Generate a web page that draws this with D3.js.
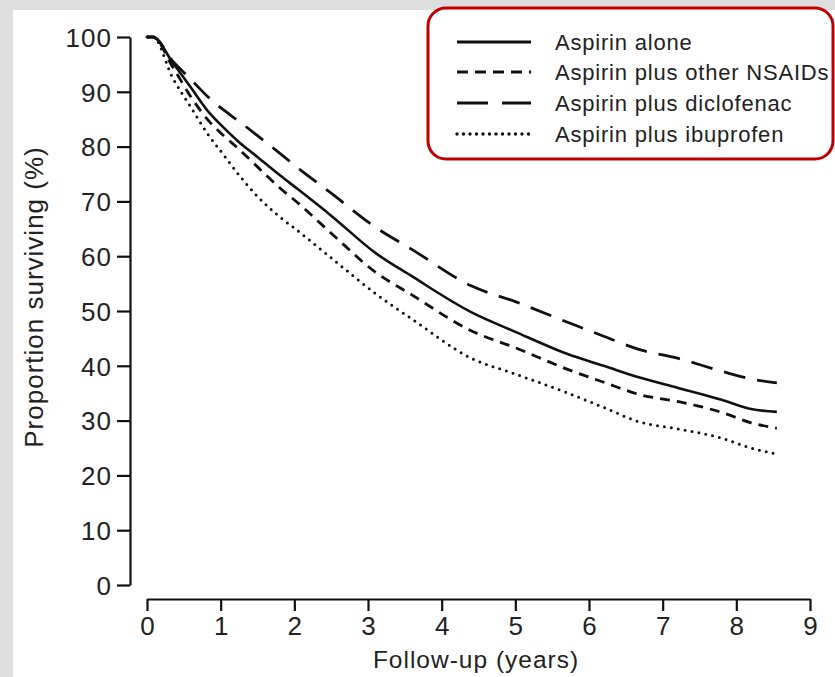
<!DOCTYPE html>
<html>
<head>
<meta charset="utf-8">
<script src="https://cdn.jsdelivr.net/npm/d3@7/dist/d3.min.js"></script>
<style>
    body { margin: 0; background: #fff; }
    svg text { font-family: "Liberation Sans", Arial, sans-serif; fill: #222; }
</style>
</head>
<body>
<div class="chart"></div>
<script>
// Follow-up time (years) at which the curves were read
const years = [0, 0.08, 0.35, 0.6, 0.85, 1.0, 1.25, 1.5, 1.8, 2.05, 2.5, 3.1, 3.6, 4.4, 5.0, 5.7, 6.2, 6.7, 7.2, 7.8, 8.2, 8.55];

// Proportion surviving (%) per group
const aspirinAlone = [100, 100, 95.3, 90.7, 86.1, 84.0, 80.8, 78.1, 74.8, 72.2, 67.4, 60.6, 56.3, 49.8, 46.2, 42.2, 40.0, 37.8, 36.0, 33.8, 32.1, 31.6];
const otherNsaids  = [100, 100, 94.5, 89.0, 84.5, 82.5, 79.5, 76.3, 72.5, 69.7, 64.2, 57.1, 52.9, 46.4, 43.3, 39.4, 37.0, 34.7, 33.5, 31.5, 29.6, 28.6];
const diclofenac   = [100, 100, 95.6, 92.2, 88.8, 87.1, 84.6, 82.0, 78.8, 76.1, 71.5, 65.3, 61.2, 54.6, 51.7, 48.0, 45.4, 42.9, 41.4, 39.0, 37.6, 36.9];
const ibuprofen    = [100, 100, 92.5, 87.1, 81.8, 79.2, 74.8, 70.9, 67.2, 64.6, 59.7, 53.2, 48.5, 41.4, 38.5, 35.1, 32.4, 29.7, 28.5, 26.8, 25.0, 23.9];

const seriesNames = ['Aspirin alone', 'Aspirin plus other NSAIDs', 'Aspirin plus diclofenac', 'Aspirin plus ibuprofen'];
const xTicks = [0, 1, 2, 3, 4, 5, 6, 7, 8, 9];
const yTicks = [0, 10, 20, 30, 40, 50, 60, 70, 80, 90, 100];

const W = 835, H = 677;
const FONT = '"Liberation Sans", Arial, sans-serif';

const svg = d3.select('.chart').append('svg')
    .attr('width', W).attr('height', H);

// grey page frame seen at top and left
svg.append('rect').attr('width', W).attr('height', H).attr('fill', '#dedede');
svg.append('rect').attr('x', 13).attr('y', 10).attr('width', W - 13).attr('height', H - 10).attr('fill', '#fff');

const x = d3.scaleLinear().domain([0, 9]).range([147, 810]);
const y = d3.scaleLinear().domain([0, 100]).range([585, 37]);

// Axes
const yAxis = svg.append('g').attr('transform', 'translate(130,0)')
    .call(d3.axisLeft(y).tickValues(yTicks).tickSize(13).tickSizeOuter(0).tickPadding(5));
const xAxis = svg.append('g').attr('transform', 'translate(0,599)')
    .call(d3.axisBottom(x).tickValues(xTicks).tickSize(12).tickSizeOuter(0).tickPadding(5));

[yAxis, xAxis].forEach((ax) => {
    ax.select('.domain').attr('stroke', '#111').attr('stroke-width', 2.2);
    ax.selectAll('.tick line').attr('stroke', '#111').attr('stroke-width', 2.2);
    ax.selectAll('.tick text').style('font-family', FONT)
        .attr('fill', '#222').style('font-size', '26px').style('letter-spacing', '1px');
});
xAxis.selectAll('.tick text').attr('dy', '0.74em').attr('dx', '0.5px');
yAxis.selectAll('.tick text').attr('dy', '0.36em');

// Axis titles
svg.append('text')
    .attr('x', 476).attr('y', 668)
    .attr('text-anchor', 'middle')
    .style('font-size', '24.5px')
    .style('letter-spacing', '1px')
    .text('Follow-up (years)');

svg.append('text')
    .attr('transform', 'translate(43,297) rotate(-90)')
    .attr('text-anchor', 'middle')
    .style('font-size', '26px')
    .style('letter-spacing', '1px')
    .text('Proportion surviving (%)');

// Curves
const styles = [
    { dash: null, cap: 'butt', width: 2.6 },
    { dash: '10,7', cap: 'butt', width: 2.8 },
    { dash: '22,12', cap: 'butt', width: 2.8 },
    { dash: '0,7', cap: 'round', width: 3 }
];
const legendDash = [null, '11,7', '31,14', '0,6.5'];

const data = [aspirinAlone, otherNsaids, diclofenac, ibuprofen].map((vals, i) => ({
    name: seriesNames[i],
    style: styles[i],
    values: years.map((t, j) => ({ t: t, v: vals[j] }))
}));

const line = d3.line()
    .x((d) => x(d.t))
    .y((d) => y(d.v))
    .curve(d3.curveMonotoneX);

svg.append('g').attr('class', 'paths')
    .selectAll('path').data(data).enter()
    .append('path')
    .attr('d', (d) => line(d.values))
    .attr('fill', 'none')
    .attr('stroke', '#111')
    .attr('stroke-width', (d) => d.style.width)
    .attr('stroke-linecap', (d) => d.style.cap)
    .attr('stroke-dasharray', (d) => d.style.dash);

// Legend
const legend = svg.append('g').attr('class', 'legend');
legend.append('rect')
    .attr('x', 428).attr('y', 8)
    .attr('width', 405).attr('height', 151)
    .attr('rx', 18)
    .attr('fill', '#fff')
    .attr('stroke', '#c00000')
    .attr('stroke-width', 3);

const rowY = [42, 72, 103, 134];
const rows = legend.selectAll('g.row').data(data).enter()
    .append('g').attr('class', 'row')
    .attr('transform', (d, i) => 'translate(0,' + rowY[i] + ')');

rows.append('line')
    .attr('x1', 457).attr('x2', 531)
    .attr('stroke', '#111')
    .attr('stroke-width', (d) => d.style.width + 0.4)
    .attr('stroke-linecap', (d) => d.style.cap)
    .attr('stroke-dasharray', (d, i) => legendDash[i]);

rows.append('text')
    .attr('x', 555).attr('y', 7.5)
    .style('font-size', '22px')
    .style('letter-spacing', '0.8px')
    .text((d) => d.name);
</script>
</body>
</html>
